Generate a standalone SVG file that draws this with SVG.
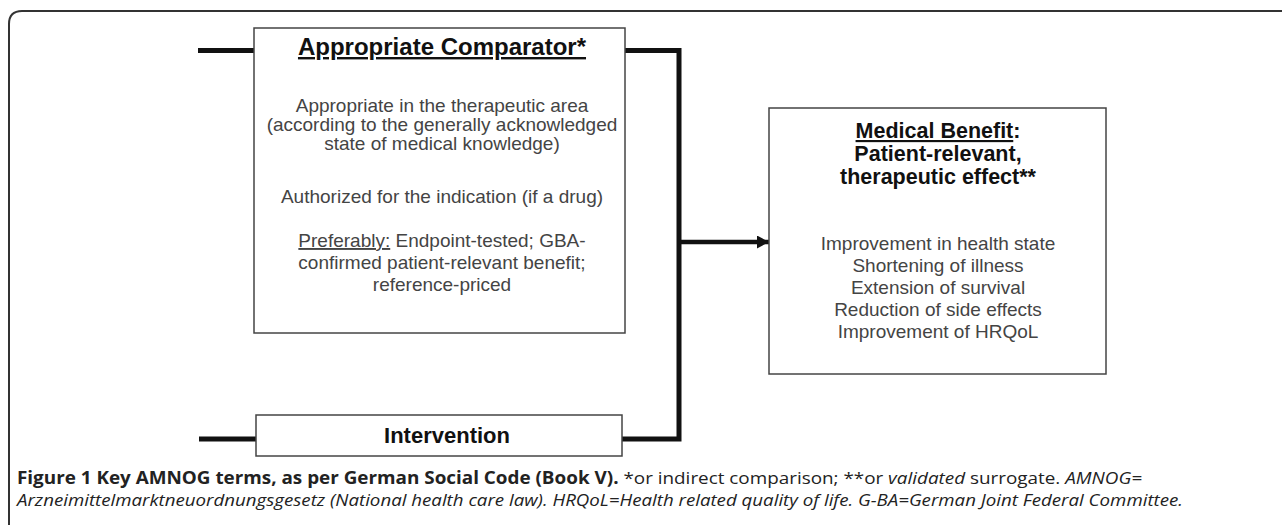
<svg xmlns="http://www.w3.org/2000/svg" width="1282" height="525" viewBox="0 0 1282 525">
<defs>
<style>
.box{fill:#fff;stroke:#444;stroke-width:1.5}
.title{font-family:"Liberation Sans",Arial,sans-serif;font-weight:bold;fill:#111;text-anchor:middle}
.body{font-family:"Liberation Sans",Arial,sans-serif;font-size:19px;fill:#444;text-anchor:middle}
.conn{fill:none;stroke:#111;stroke-width:5}
.cap{font-family:"Open Sans","Noto Sans",sans-serif;font-size:17px;fill:#222}
</style>
<marker id="arr" markerWidth="13" markerHeight="13" refX="12" refY="6.5" orient="auto" markerUnits="userSpaceOnUse">
<path d="M0,0 L12,6.5 L0,13 Z" fill="#111"/>
</marker>
</defs>
<rect width="1282" height="525" fill="#fff"/>
<path d="M1282,11 L22,11 Q9,11 9,24 L9,525" fill="none" stroke="#333" stroke-width="2"/>

<g id="connectors">
<line class="conn" x1="198" y1="50.5" x2="254" y2="50.5"/>
<line class="conn" x1="199" y1="439" x2="256" y2="439"/>
<polyline class="conn" points="625,50.5 679,50.5 679,439 622,439"/>
<line x1="679" y1="242" x2="769" y2="242" stroke="#111" stroke-width="4.5" marker-end="url(#arr)"/>
</g>

<g id="comparator">
<rect class="box" x="254" y="28" width="371" height="305"/>
<text class="title" x="442" y="55" font-size="24" text-decoration="underline">Appropriate Comparator*</text>
<text class="body" x="442" y="112">Appropriate in the therapeutic area</text>
<text class="body" x="442" y="131">(according to the generally acknowledged</text>
<text class="body" x="442" y="150">state of medical knowledge)</text>
<text class="body" x="442" y="203">Authorized for the indication (if a drug)</text>
<text class="body" x="442" y="247" fill="#222"><tspan text-decoration="underline">Preferably:</tspan> Endpoint-tested; GBA-</text>
<text class="body" x="442" y="269" fill="#222">confirmed patient-relevant benefit;</text>
<text class="body" x="442" y="291" fill="#222">reference-priced</text>
</g>

<g id="intervention">
<rect class="box" x="256" y="415" width="366" height="41"/>
<text class="title" x="447" y="443" font-size="22">Intervention</text>
</g>

<g id="benefit">
<rect class="box" x="769" y="108" width="337" height="266"/>
<text class="title" x="938" y="138" font-size="21.5"><tspan text-decoration="underline">Medical Benefit</tspan>:</text>
<text class="title" x="938" y="161" font-size="21.5">Patient-relevant,</text>
<text class="title" x="938" y="184" font-size="21.5">therapeutic effect**</text>
<text class="body" x="938" y="250" fill="#222">Improvement in health state</text>
<text class="body" x="938" y="272" fill="#222">Shortening of illness</text>
<text class="body" x="938" y="294" fill="#222">Extension of survival</text>
<text class="body" x="938" y="316" fill="#222">Reduction of side effects</text>
<text class="body" x="938" y="338" fill="#222">Improvement of HRQoL</text>
</g>

<g id="caption">
<text class="cap" x="17" y="484" textLength="1125" lengthAdjust="spacingAndGlyphs"><tspan font-weight="bold">Figure 1 Key AMNOG terms, as per German Social Code (Book V).</tspan> *or indirect comparison; **or <tspan font-style="italic">validated</tspan> surrogate. <tspan font-style="italic">AMNOG=</tspan></text>
<text class="cap" x="17" y="506" font-style="italic" textLength="1166" lengthAdjust="spacingAndGlyphs">Arzneimittelmarktneuordnungsgesetz (National health care law). HRQoL=Health related quality of life. G-BA=German Joint Federal Committee.</text>
</g>
</svg>
